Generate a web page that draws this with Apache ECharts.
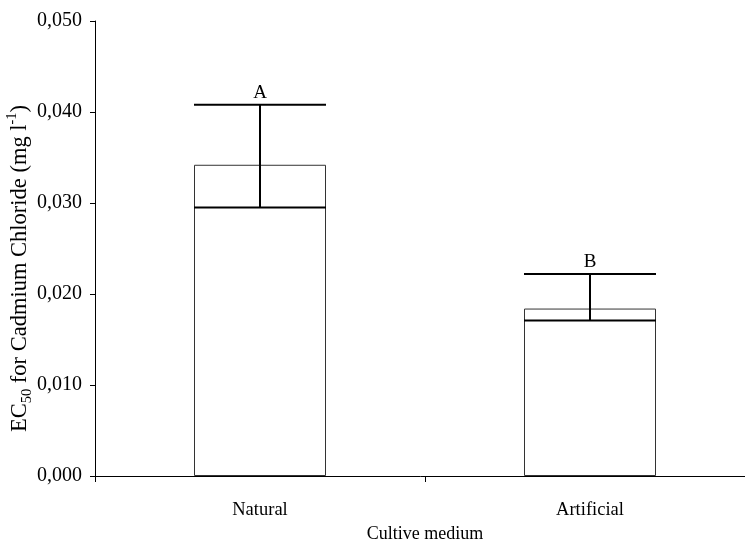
<!DOCTYPE html>
<html>
<head>
<meta charset="utf-8">
<script src="https://cdn.jsdelivr.net/npm/echarts@6/dist/echarts.min.js"></script>
<style>html,body{margin:0;padding:0;background:#fff;}#c{width:745px;height:542px;}</style>
</head>
<body>
<div id="c"></div>
<script>
var categories = ['Natural', 'Artificial'];
var ec50Values = [0.0342, 0.0184];
var errorUpper = [0.0408, 0.0222];
var errorLower = [0.0295, 0.0171];
var groupLetters = ['A', 'B'];

var chart = echarts.init(document.getElementById('c'), null, {renderer: 'canvas'});
var FONT = 'Liberation Serif';
var errData = categories.map(function (c, i) { return [i, errorLower[i], errorUpper[i], groupLetters[i]]; });

chart.setOption({
  animation: false,
  grid: {left: 95, right: -10, top: 21, bottom: 66, containLabel: false, outerBoundsMode: 'none'},
  xAxis: {
    type: 'category',
    data: categories,
    name: 'Cultive medium',
    nameLocation: 'middle',
    nameGap: 49,
    nameMoveOverlap: false,
    nameTextStyle: {fontFamily: FONT, fontSize: 18, color: '#000'},
    axisLine: {lineStyle: {color: '#000', width: 1}},
    axisTick: {show: true, length: 6, inside: false, lineStyle: {color: '#000'}},
    axisLabel: {fontFamily: FONT, fontSize: 18.5, color: '#000', margin: 25},
    splitLine: {show: false}
  },
  yAxis: {
    type: 'value',
    min: 0, max: 0.05, interval: 0.01,
    name: '{a|EC}{sub|50}{a| for Cadmium Chloride (mg l}{sup|-1}{a|)}',
    nameLocation: 'middle',
    nameRotate: 90,
    nameGap: 60,
    nameMoveOverlap: false,
    nameTextStyle: {
      fontFamily: FONT, color: '#000',
      padding: [0, 40, 0, 0],
      rich: {
        a: {fontFamily: FONT, fontSize: 22.5, color: '#000', lineHeight: 30, verticalAlign: 'middle'},
        sub: {fontFamily: FONT, fontSize: 14.5, color: '#000', lineHeight: 30, verticalAlign: 'bottom'},
        sup: {fontFamily: FONT, fontSize: 14.5, color: '#000', lineHeight: 30, verticalAlign: 'top'}
      }
    },
    axisLine: {show: true, lineStyle: {color: '#000', width: 1}},
    axisTick: {show: true, length: 5, lineStyle: {color: '#000'}},
    axisLabel: {
      fontFamily: FONT, fontSize: 20, color: '#000', margin: 13,
      formatter: function (v) { return v.toFixed(3).replace('.', ','); }
    },
    splitLine: {show: false}
  },
  series: [
    {
      type: 'bar',
      data: ec50Values,
      barWidth: '40%',
      itemStyle: {color: '#fff', borderColor: '#333', borderWidth: 1}
    },
    {
      type: 'custom',
      data: errData,
      z: 10,
      renderItem: function (params, api) {
        var x = api.value(0);
        var lo = api.coord([x, api.value(1)]);
        var hi = api.coord([x, api.value(2)]);
        var w = api.size([1, 0])[0] * 0.4;
        var st = {stroke: '#000', lineWidth: 2};
        return {
          type: 'group',
          children: [
            {type: 'line', shape: {x1: hi[0] - w / 2, y1: hi[1], x2: hi[0] + w / 2, y2: hi[1]}, style: st},
            {type: 'line', shape: {x1: lo[0] - w / 2, y1: lo[1], x2: lo[0] + w / 2, y2: lo[1]}, style: st},
            {type: 'line', shape: {x1: hi[0], y1: hi[1], x2: lo[0], y2: lo[1]}, style: st},
            {type: 'text', x: hi[0], y: hi[1] - 2, style: {text: api.value(3), fontFamily: FONT, fontSize: 19, fill: '#000', textAlign: 'center', textVerticalAlign: 'bottom'}}
          ]
        };
      }
    }
  ]
});
</script>
</body>
</html>
